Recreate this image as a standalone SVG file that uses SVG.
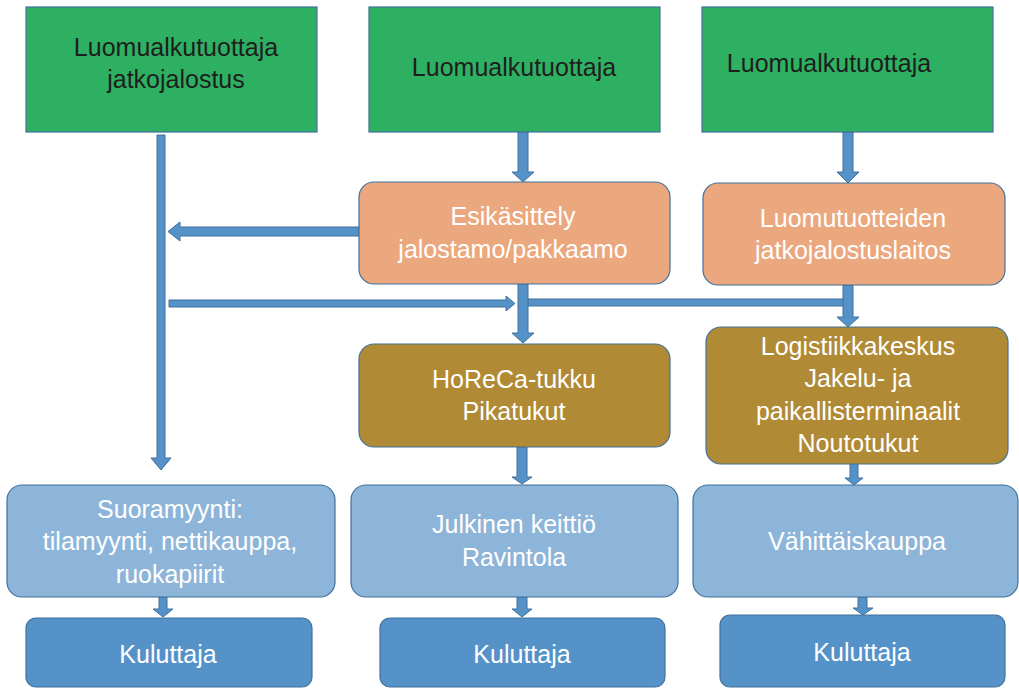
<svg xmlns="http://www.w3.org/2000/svg" width="1019" height="688" viewBox="0 0 1019 688">
<style>
.box{stroke:#41719C;stroke-width:1.2}
.g{fill:#2EB062}
.s{fill:#EBA77E}
.b{fill:#B08A34}
.l{fill:#8DB5D9}
.d{fill:#5592C8}
.arr{fill:#5592C8;stroke:#41719C;stroke-width:1}
text{font-family:"Liberation Sans",Arial,sans-serif;font-size:25px;text-anchor:middle;fill:#FFFFFF}
.dk{fill:#1E1E1E}
</style>
<rect width="1019" height="688" fill="#FFFFFF"/>
<g id="connectors">
<polygon class="arr" points="157,135 165,135 165,458 171,458 161,470 151,458 157,458"/>
<polygon class="arr" points="518,132 528,132 528,172 534,172 523,182 512,172 518,172"/>
<polygon class="arr" points="843,132 853,132 853,172 859,172 848,183 837,172 843,172"/>
<polygon class="arr" points="527,299 844,299 844,306 527,306"/>
<polygon class="arr" points="518,284 528,284 528,333 534,333 523,343 512,333 518,333"/>
<polygon class="arr" points="843,285 853,285 853,317 859,317 848,327 837,317 843,317"/>
<polygon class="arr" points="359,227 180,227 180,222 168,231.5 180,241 180,236 359,236"/>
<polygon class="arr" points="169,300 506,300 506,296 515,303.5 506,311 506,307 169,307"/>
<polygon class="arr" points="517,447 527,447 527,477 532,477 522,484 512,477 517,477"/>
<polygon class="arr" points="159,597 167,597 167,609 173,609 163,617 153,609 159,609"/>
<polygon class="arr" points="517,597 527,597 527,609 532,609 522,617 512,609 517,609"/>
<polygon class="arr" points="850,463 858,463 858,478 863,478 854,485 845,478 850,478"/>
<polygon class="arr" points="858,597 867,597 867,608 873,608 863,615 853,608 858,608"/>
</g>
<g id="n-green1"><rect class="box g" x="26" y="7" width="291" height="125"/><text class="dk" x="176" y="56">Luomualkutuottaja</text><text class="dk" x="176" y="88">jatkojalostus</text></g>
<g id="n-green2"><rect class="box g" x="369" y="7" width="291" height="125"/><text class="dk" x="514" y="76">Luomualkutuottaja</text></g>
<g id="n-green3"><rect class="box g" x="702" y="7" width="291" height="125"/><text class="dk" x="829" y="72">Luomualkutuottaja</text></g>
<g id="n-esik"><rect class="box s" x="359" y="182" width="311" height="102" rx="15"/><text x="513" y="225">Esikäsittely</text><text x="513" y="258">jalostamo/pakkaamo</text></g>
<g id="n-luomut"><rect class="box s" x="703" y="183" width="302" height="102" rx="15"/><text x="853" y="227">Luomutuotteiden</text><text x="853" y="259">jatkojalostuslaitos</text></g>
<g id="n-horeca"><rect class="box b" x="359" y="344" width="311" height="103" rx="15"/><text x="514" y="388">HoReCa-tukku</text><text x="514" y="420">Pikatukut</text></g>
<g id="n-logist"><rect class="box b" x="706" y="327" width="302" height="137" rx="15"/><text x="858" y="355">Logistiikkakeskus</text><text x="858" y="387">Jakelu- ja</text><text x="858" y="420">paikallisterminaalit</text><text x="858" y="452">Noutotukut</text></g>
<g id="n-suora"><rect class="box l" x="7" y="485" width="328" height="112" rx="15"/><text x="170" y="518">Suoramyynti:</text><text x="170" y="550">tilamyynti, nettikauppa,</text><text x="170" y="583">ruokapiirit</text></g>
<g id="n-julk"><rect class="box l" x="351" y="485" width="327" height="112" rx="15"/><text x="514" y="533">Julkinen keittiö</text><text x="514" y="566">Ravintola</text></g>
<g id="n-vah"><rect class="box l" x="693" y="485" width="325" height="112" rx="15"/><text x="857" y="550">Vähittäiskauppa</text></g>
<g id="n-kul1"><rect class="box d" x="26" y="618" width="286" height="69" rx="10"/><text x="168" y="663">Kuluttaja</text></g>
<g id="n-kul2"><rect class="box d" x="380" y="618" width="285" height="69" rx="10"/><text x="522" y="663">Kuluttaja</text></g>
<g id="n-kul3"><rect class="box d" x="720" y="615" width="285" height="72" rx="10"/><text x="862" y="661">Kuluttaja</text></g>
</svg>
